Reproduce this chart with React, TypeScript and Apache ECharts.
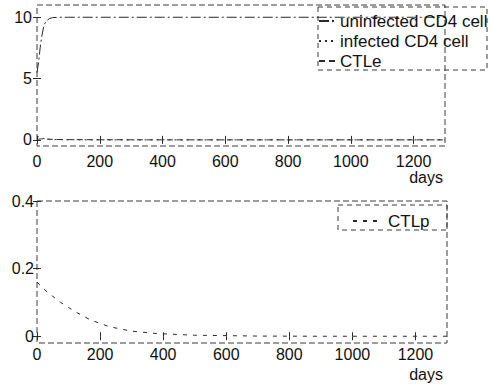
import React, { useEffect, useRef } from "react";
import * as echarts from "echarts";

const xTicks = [0, 200, 400, 600, 800, 1000, 1200];
const yTicksTop = [0, 5, 10];
const yTicksBottom = [0, 0.2, 0.4];

const daysTop = [0, 5, 10, 15, 22, 30, 40, 50, 70, 100, 200, 400, 600, 800, 1000, 1200, 1300];
const uninfected = [5.5, 6.3, 7.5, 8.4, 9.35, 9.7, 9.9, 9.97, 10, 10, 10, 10, 10, 10, 10, 10, 10];
const infected = [0.3, 0.25, 0.2, 0.15, 0.1, 0.07, 0.05, 0.03, 0.02, 0.01, 0, 0, 0, 0, 0, 0, 0];
const ctle = [0, 0.05, 0.08, 0.08, 0.07, 0.06, 0.05, 0.04, 0.03, 0.02, 0.01, 0, 0, 0, 0, 0, 0];

const daysBottom = [0, 25, 50, 75, 100, 130, 170, 230, 300, 380, 500, 700, 900, 1100, 1300];
const ctlp = [0.16, 0.137, 0.118, 0.1, 0.085, 0.068, 0.048, 0.028, 0.015, 0.008, 0.003, 0.0005, 0, 0, 0];

const FONT = "'Liberation Sans', Arial, sans-serif";
const INK = "#2a2a2a";

const pairs = (xs: number[], ys: number[]) => xs.map((x, i) => [x, ys[i]]);

export default function App() {
  const ref = useRef<HTMLDivElement>(null);
  useEffect(() => {
    if (!ref.current) return;
    const chart = echarts.init(ref.current, undefined, { renderer: "svg" });
    const G1 = { left: 37, top: 5, width: 408, height: 141 };
    const G2 = { left: 37, top: 201, width: 410, height: 142 };
    const label = { fontFamily: FONT, fontSize: 16, color: "#111" };
    const xAxisMain = (gridIndex: number, margin: number) => ({
      type: "value",
      gridIndex,
      min: 0,
      max: 1300,
      axisLine: { show: false },
      splitLine: { show: false },
      axisTick: { inside: true, length: 4, customValues: xTicks, lineStyle: { color: INK } },
      axisLabel: { ...label, margin, customValues: xTicks, formatter: (v: number) => String(v) },
    });
    const xAxisTop = (gridIndex: number) => ({
      type: "value",
      gridIndex,
      position: "top",
      min: 0,
      max: 1300,
      axisLine: { show: false },
      splitLine: { show: false },
      axisTick: { inside: true, length: 4, customValues: xTicks, lineStyle: { color: INK } },
      axisLabel: { show: false },
    });
    const yMain = (gridIndex: number, min: number, max: number, ticks: number[], margin: number) => ({
      type: "value",
      gridIndex,
      min,
      max,
      axisLine: { show: false },
      splitLine: { show: false },
      axisTick: { inside: true, length: 4, customValues: ticks, lineStyle: { color: INK } },
      axisLabel: { ...label, margin, customValues: ticks, formatter: (v: number) => String(v) },
    });
    const yRight = (gridIndex: number, min: number, max: number, ticks: number[]) => ({
      type: "value",
      gridIndex,
      position: "right",
      min,
      max,
      axisLine: { show: false },
      splitLine: { show: false },
      axisTick: { inside: true, length: 4, customValues: ticks, lineStyle: { color: INK } },
      axisLabel: { show: false },
    });
    const boxStyle = { fill: "none", stroke: "#3a3a3a", lineWidth: 1, lineDash: [6, 3] };
    const legendText = { fontFamily: FONT, fontSize: 17, color: "#111", lineHeight: 18 };
    chart.setOption({
      animation: false,
      grid: [G1, G2],
      xAxis: [xAxisMain(0, 7), xAxisTop(0), xAxisMain(1, 3), xAxisTop(1)],
      yAxis: [
        yMain(0, -0.5, 11, yTicksTop, 5),
        yRight(0, -0.5, 11, yTicksTop),
        yMain(1, -0.02, 0.4, yTicksBottom, 3),
        yRight(1, -0.02, 0.4, yTicksBottom),
      ],
      legend: [
        {
          data: ["uninfected CD4 cell", "infected CD4 cell", "CTLe"],
          orient: "vertical",
          left: 313,
          top: 7,
          itemWidth: 16,
          itemHeight: 14,
          itemGap: 2,
          itemStyle: { color: "transparent", borderWidth: 0 },
          textStyle: legendText,
        },
        {
          data: ["CTLp"],
          orient: "vertical",
          left: 347,
          top: 207,
          itemWidth: 30,
          itemHeight: 14,
          itemStyle: { color: "transparent", borderWidth: 0 },
          textStyle: legendText,
        },
      ],
      graphic: [
        { type: "rect", shape: { x: G1.left, y: G1.top, width: G1.width, height: G1.height }, style: boxStyle, silent: true },
        { type: "rect", shape: { x: G2.left, y: G2.top, width: G2.width, height: G2.height }, style: boxStyle, silent: true },
        { type: "rect", shape: { x: 318, y: 7, width: 169, height: 63 }, style: { ...boxStyle, lineDash: [5, 4] }, silent: true },
        { type: "rect", shape: { x: 338, y: 205, width: 109, height: 25 }, style: { ...boxStyle, lineDash: [5, 4] }, silent: true },
        { type: "text", right: 50, top: 169, style: { text: "days", font: `16px ${FONT}`, fill: "#111" } },
        { type: "text", right: 50, top: 366, style: { text: "days", font: `16px ${FONT}`, fill: "#111" } },
      ],
      series: [
        {
          name: "uninfected CD4 cell",
          type: "line",
          xAxisIndex: 0,
          yAxisIndex: 0,
          data: pairs(daysTop, uninfected),
          symbol: "none",
          lineStyle: { color: INK, width: 1, type: [10, 3, 2, 3] },
          itemStyle: { color: INK },
        },
        {
          name: "infected CD4 cell",
          type: "line",
          xAxisIndex: 0,
          yAxisIndex: 0,
          data: pairs(daysTop, infected),
          symbol: "none",
          lineStyle: { color: INK, width: 1, type: [2, 4] },
          itemStyle: { color: INK },
        },
        {
          name: "CTLe",
          type: "line",
          xAxisIndex: 0,
          yAxisIndex: 0,
          data: pairs(daysTop, ctle),
          symbol: "none",
          lineStyle: { color: INK, width: 1, type: [6, 4] },
          itemStyle: { color: INK },
        },
        {
          name: "CTLp",
          type: "line",
          xAxisIndex: 2,
          yAxisIndex: 2,
          data: pairs(daysBottom, ctlp),
          symbol: "none",
          lineStyle: { color: INK, width: 1, type: [4, 6] },
          itemStyle: { color: INK },
        },
      ],
    });
    return () => chart.dispose();
  }, []);
  return <div ref={ref} style={{ width: 493, height: 386, position: "absolute", left: 0, top: 0 }} />;
}
